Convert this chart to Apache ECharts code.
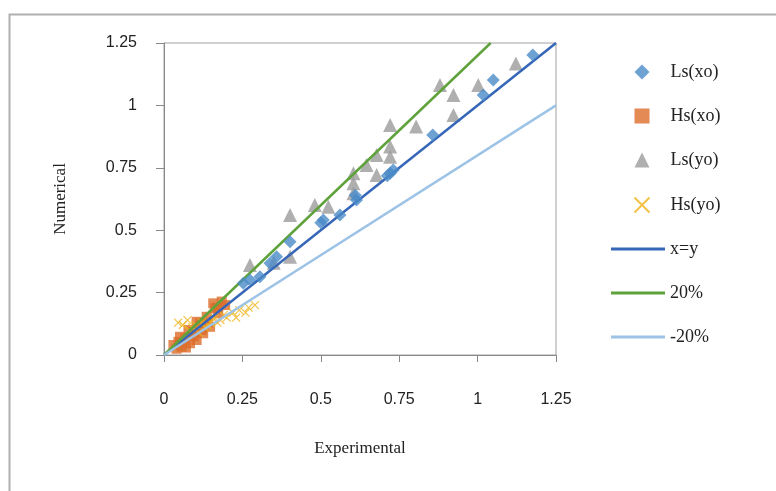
<!DOCTYPE html>
<html>
<head>
<meta charset="utf-8">
<script src="https://cdn.jsdelivr.net/npm/echarts@6/dist/echarts.min.js"></script>
<style>html,body{margin:0;padding:0;background:#fff}#c{width:776px;height:491px}</style>
</head>
<body>
<div id="c"></div>
<script>
var lsXo = [[1.176,1.202],[1.050,1.102],[1.018,1.042],[0.857,0.881],[0.731,0.741],[0.721,0.728],[0.712,0.718],[0.614,0.621],[0.561,0.561],[0.508,0.541],[0.500,0.530],[0.402,0.454],[0.359,0.394],[0.338,0.368],[0.306,0.314],[0.274,0.300],[0.253,0.287],[0.610,0.640]];
var hsXo = [[0.030,0.040],[0.046,0.053],[0.056,0.033],[0.067,0.067],[0.083,0.047],[0.093,0.093],[0.104,0.060],[0.115,0.127],[0.125,0.087],[0.136,0.153],[0.147,0.113],[0.163,0.187],[0.173,0.167],[0.184,0.214],[0.195,0.200],[0.051,0.073],[0.078,0.100],[0.104,0.133],[0.157,0.207],[0.040,0.025],[0.070,0.030],[0.095,0.075],[0.120,0.100],[0.140,0.130],[0.170,0.190]];
var lsYo = [[1.122,1.168],[1.002,1.082],[0.880,1.082],[0.923,1.042],[0.923,0.962],[0.721,0.921],[0.804,0.915],[0.721,0.835],[0.721,0.794],[0.678,0.801],[0.646,0.761],[0.604,0.728],[0.678,0.721],[0.604,0.688],[0.604,0.648],[0.481,0.601],[0.524,0.594],[0.402,0.561],[0.402,0.394],[0.274,0.361],[0.350,0.370]];
var hsYo = [[0.045,0.13],[0.06,0.12],[0.075,0.14],[0.09,0.11],[0.10,0.12],[0.12,0.13],[0.13,0.11],[0.15,0.13],[0.16,0.15],[0.18,0.14],[0.19,0.16],[0.20,0.15],[0.22,0.17],[0.23,0.15],[0.24,0.18],[0.26,0.17],[0.27,0.19],[0.29,0.20],[0.11,0.09],[0.14,0.12],[0.08,0.10],[0.17,0.13]];
var lineXY = [[0,0],[1.25,1.25]];
var linePlus20 = [[0,0],[1.0417,1.25]];
var lineMinus20 = [[0,0],[1.25,1.0]];

var serif = '"Liberation Serif","DejaVu Serif",serif';
var sans = '"Liberation Sans",Arial,sans-serif';
var chart = echarts.init(document.getElementById('c'));
function fmt(v){ return String(v); }
chart.setOption({
  animation:false,
  graphic:[{type:'rect',shape:{x:9.5,y:14.5,width:800,height:500},style:{fill:'none',stroke:'#b0b0b0',lineWidth:2},silent:true}],
  grid:{left:164,top:43,right:220,bottom:136,show:true,borderColor:'#a0a0a0',borderWidth:1},
  legend:[
    {orient:'vertical',left:632,top:63,padding:0,itemGap:26,itemWidth:15,itemHeight:15,
      textStyle:{fontFamily:serif,fontSize:18,color:'#222',padding:[0,0,0,16]},
      data:['Ls(xo)','Hs(xo)','Ls(yo)','Hs(yo)']},
    {orient:'vertical',left:611,top:240,padding:0,itemGap:26,itemWidth:54,itemHeight:3,
      textStyle:{fontFamily:serif,fontSize:18,color:'#222'},
      data:[{name:'x=y',icon:'rect'},{name:'20%',icon:'rect'},{name:'-20%',icon:'rect'}]}
  ],
  xAxis:{type:'value',min:0,max:1.25,interval:0.25,
    name:'Experimental',nameLocation:'middle',nameGap:85,
    nameTextStyle:{fontFamily:serif,fontSize:17,color:'#222'},
    axisLine:{lineStyle:{color:'#8a8a8a'}},axisTick:{show:true,length:7,lineStyle:{color:'#8a8a8a'}},
    splitLine:{show:false},
    axisLabel:{fontFamily:sans,fontSize:16,color:'#222',margin:37,formatter:fmt}},
  yAxis:{type:'value',min:0,max:1.25,interval:0.25,
    name:'Numerical',nameLocation:'middle',nameGap:95,
    nameTextStyle:{fontFamily:serif,fontSize:17,color:'#222'},
    axisLine:{show:true,lineStyle:{color:'#8a8a8a'}},axisTick:{show:true,length:8,lineStyle:{color:'#8a8a8a'}},
    splitLine:{show:false},
    axisLabel:{fontFamily:sans,fontSize:16,color:'#222',margin:27,formatter:fmt}},
  series:[
    {name:'x=y',type:'line',data:lineXY,symbol:'none',lineStyle:{color:'#3566b8',width:2.5},itemStyle:{color:'#3566b8'},z:3},
    {name:'20%',type:'line',data:linePlus20,symbol:'none',lineStyle:{color:'#5fa23c',width:2.5},itemStyle:{color:'#5fa23c'},z:3},
    {name:'-20%',type:'line',data:lineMinus20,symbol:'none',lineStyle:{color:'#9dc3e6',width:2.5},itemStyle:{color:'#9dc3e6'},z:3},
    {name:'Ls(xo)',type:'scatter',data:lsXo,symbol:'diamond',symbolSize:13,itemStyle:{color:'#4a8bc8'},z:4},
    {name:'Hs(xo)',type:'scatter',data:hsXo,symbol:'rect',symbolSize:10,itemStyle:{color:'#dc6d2b'},z:2},
    {name:'Ls(yo)',type:'scatter',data:lsYo,symbol:'triangle',symbolSize:14,itemStyle:{color:'#9b9b9b'},z:2},
    {name:'Hs(yo)',type:'scatter',data:hsYo,symbol:'path://M0,0L10,10M10,0L0,10',symbolSize:8,
      itemStyle:{color:'none',borderColor:'#f0b41a',borderWidth:1.2},z:2}
  ]
});
</script>
</body>
</html>
